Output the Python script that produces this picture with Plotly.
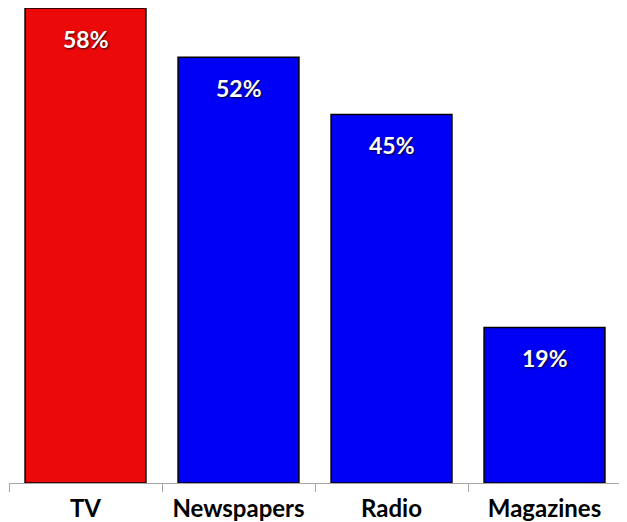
import plotly.graph_objects as go

categories = ["TV", "Newspapers", "Radio", "Magazines"]
values = [58, 52, 45, 19]
labels = ["58%", "52%", "45%", "19%"]
colors = ["#EC0909", "#0000F5", "#0000F5", "#0000F5"]

fig = go.Figure()
fig.add_trace(go.Bar(
    x=categories, y=values,
    marker=dict(color=colors, line=dict(color="#000000", width=1.5)),
    hoverinfo="skip",
))

for c, v, t in zip(categories, values, labels):
    fig.add_annotation(
        x=c, y=v, text="<b>%s</b>" % t, showarrow=False,
        yanchor="middle", yshift=-31,
        font=dict(family="Lato", size=23, color="white",
                  shadow="1px 1px 2px rgba(0,0,0,0.8)"),
    )

# page body has an 8px margin, so the figure itself starts at (8, 8)
fig.update_layout(
    width=619, height=514,
    margin=dict(l=1, r=6, t=0, b=39),
    paper_bgcolor="white", plot_bgcolor="white",
    bargap=0.21,
    showlegend=False,
    font=dict(family="Lato", color="black"),
)
fig.update_xaxes(
    showline=True, linecolor="#A6A6A6", linewidth=1.2,
    ticks="outside", tickson="boundaries", ticklen=8, tickcolor="#A6A6A6", tickwidth=1.2,
    tickfont=dict(family="Lato", size=24, color="black", weight="bold"),
    ticklabelstandoff=4,
    showgrid=False,
)
fig.update_yaxes(range=[0, 58], visible=False, showgrid=False)

fig.write_html("out.html")
